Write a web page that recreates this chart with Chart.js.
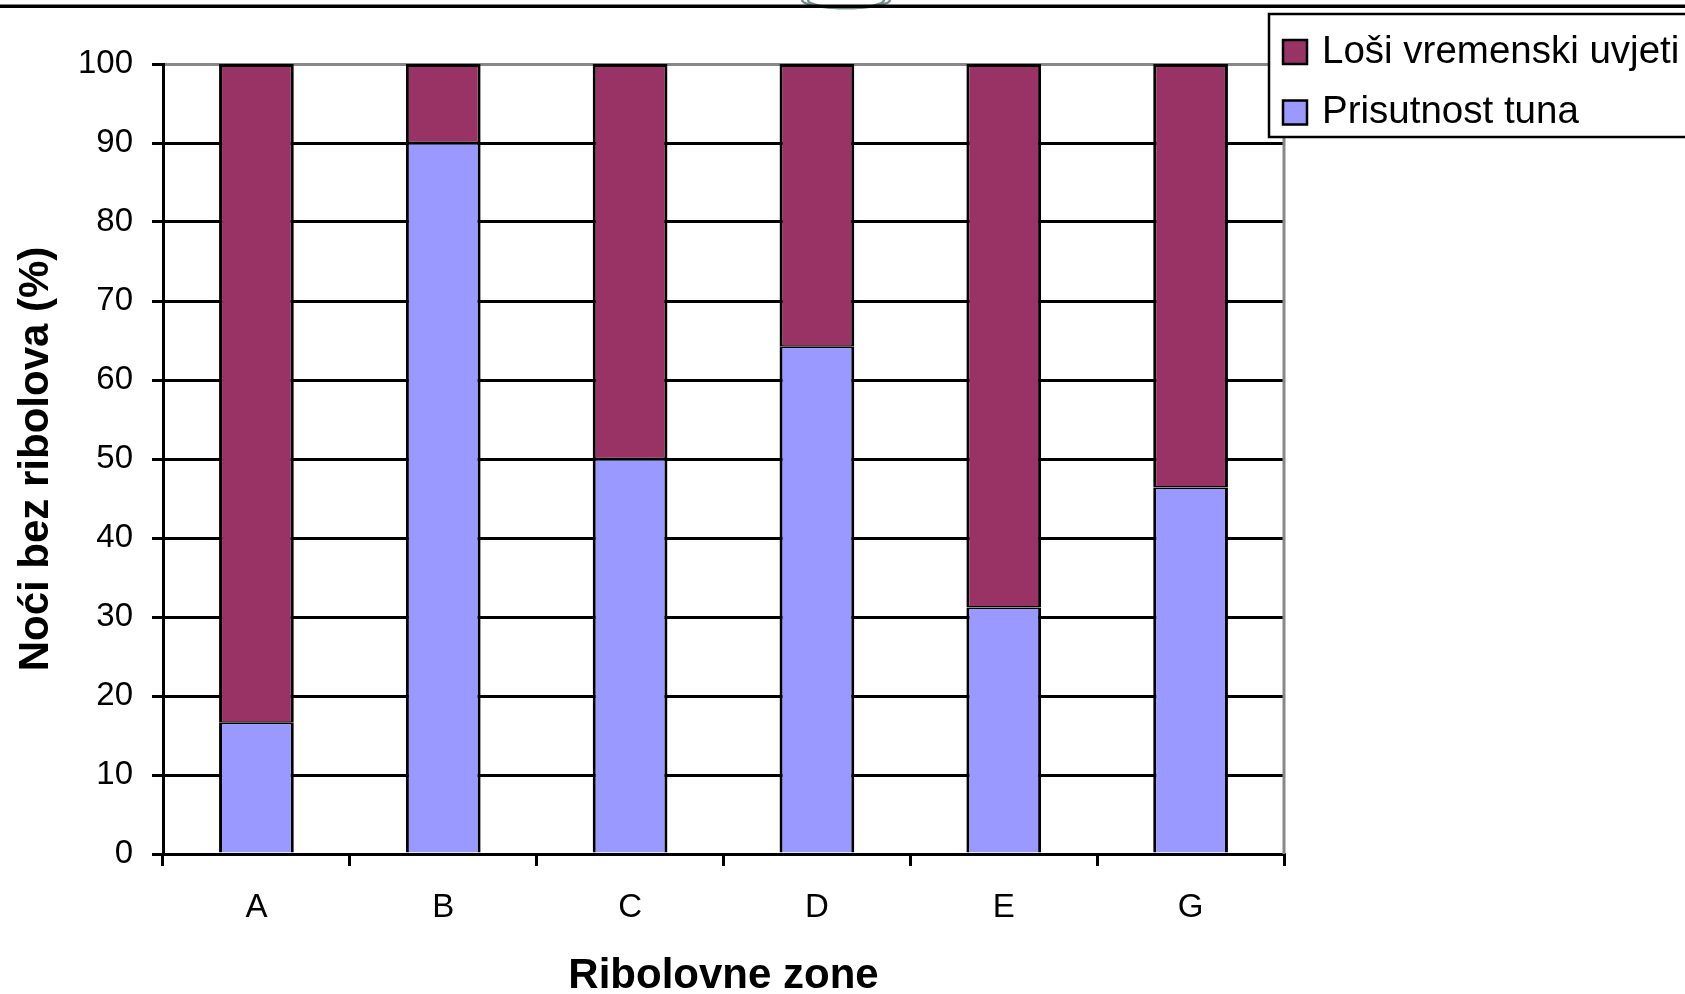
<!DOCTYPE html>
<html>
<head>
<meta charset="utf-8">
<title>Noći bez ribolova</title>
<script src="https://cdn.jsdelivr.net/npm/chart.js@4.4.1/dist/chart.umd.min.js"></script>
<style>
  html, body { margin: 0; padding: 0; background: #fff; }
  #wrap { width: 1685px; height: 994px; position: relative; }
</style>
</head>
<body>
<div id="wrap"><canvas id="ribolov-chart" width="1685" height="994"></canvas></div>
<script>
// Data
const zones = ['A', 'B', 'C', 'D', 'E', 'G'];
const tunaValues = [16.6, 90, 50, 64.2, 31.2, 46.4];      // Prisutnost tuna (bottom)
const weatherValues = [83.4, 10, 50, 35.8, 68.8, 53.6];   // Loši vremenski uvjeti (top)
const yTicks = [0, 10, 20, 30, 40, 50, 60, 70, 80, 90, 100];
const xTitle = 'Ribolovne zone';
const yTitle = 'Noći bez ribolova (%)';

const FONT = "'Liberation Sans', Arial, sans-serif";
Chart.defaults.font.family = FONT;
Chart.defaults.color = '#000';

// Top rule of the page and the cut-off logo above it
const pageDecor = {
    id: 'pageDecor',
    afterDraw(chart) {
        const ctx = chart.ctx;
        ctx.save();
        ctx.strokeStyle = '#6f8f8c';
        ctx.lineWidth = 2.5;
        [44, 38].forEach(rx => {
            ctx.beginPath();
            ctx.ellipse(846, 0, rx, 8, 0, 0, Math.PI);
            ctx.stroke();
        });
        ctx.fillStyle = '#000';
        ctx.fillRect(0, 4.5, chart.width, 3.5);
        ctx.restore();
    }
};

// Gray right edge of the plot area
const plotEdge = {
    id: 'plotEdge',
    beforeDatasetsDraw(chart) {
        const {ctx, chartArea} = chart;
        ctx.save();
        ctx.strokeStyle = '#888';
        ctx.lineWidth = 3;
        ctx.beginPath();
        ctx.moveTo(chartArea.right, chartArea.top);
        ctx.lineTo(chartArea.right, chartArea.bottom);
        ctx.stroke();
        ctx.restore();
    }
};

// Boxed legend in the top right corner, drawn over the plot
const boxLegend = {
    id: 'boxLegend',
    afterDraw(chart) {
        const ctx = chart.ctx;
        const items = chart.data.datasets.slice().reverse();
        ctx.save();
        ctx.fillStyle = '#fff';
        ctx.fillRect(1269, 14, 430, 123);
        ctx.strokeStyle = '#000';
        ctx.lineWidth = 2.5;
        ctx.strokeRect(1269, 14, 430, 123);
        ctx.font = '38.5px ' + FONT;
        ctx.textBaseline = 'middle';
        ctx.textAlign = 'left';
        items.forEach((ds, i) => {
            const cy = 52 + i * 60.5;
            ctx.fillStyle = ds.backgroundColor;
            ctx.fillRect(1283, cy - 12, 24, 24);
            ctx.strokeRect(1283, cy - 12, 24, 24);
            ctx.fillStyle = '#000';
            ctx.fillText(ds.label, 1322, cy);
        });
        ctx.restore();
    }
};

const canvas = document.getElementById('ribolov-chart');
const ribolovChart = new Chart(canvas.getContext('2d'), {
    type: 'bar',
    data: {
        labels: zones,
        datasets: [{
            label: 'Prisutnost tuna',
            data: tunaValues,
            backgroundColor: '#9999FF',
            borderColor: '#000',
            borderWidth: {top: 1.5, left: 3, right: 3, bottom: 0},
            borderSkipped: false,
            inflateAmount: 0
        }, {
            label: 'Loši vremenski uvjeti',
            data: weatherValues,
            backgroundColor: '#993366',
            borderColor: '#000',
            borderWidth: {top: 3, left: 3, right: 3, bottom: 1.5},
            borderSkipped: false,
            inflateAmount: 0
        }]
    },
    options: {
        responsive: false,
        animation: false,
        barPercentage: 0.4,
        categoryPercentage: 1.0,
        layout: {
            padding: {left: 0, right: 401, top: 64, bottom: 0}
        },
        scales: {
            x: {
                stacked: true,
                afterFit: scale => { scale.height = 140; },
                grid: {
                    drawOnChartArea: false,
                    drawTicks: true,
                    tickLength: 12,
                    color: '#000',
                    lineWidth: 3,
                    offset: true
                },
                border: {color: '#000', width: 3},
                ticks: {
                    font: {size: 33},
                    color: '#000',
                    padding: 22,
                    maxRotation: 0
                },
                title: {
                    display: true,
                    text: xTitle,
                    color: '#000',
                    font: {size: 42, weight: 'bold'},
                    padding: {top: 0, bottom: -8}
                }
            },
            y: {
                stacked: true,
                min: 0,
                max: 100,
                afterFit: scale => { scale.width = 163; },
                afterBuildTicks: scale => {
                    scale.ticks = yTicks.map(v => ({value: v}));
                },
                grid: {
                    color: c => (c.tick && c.tick.value === 100 ? '#888' : '#000'),
                    tickColor: '#000',
                    lineWidth: 3,
                    tickLength: 11
                },
                border: {color: '#000', width: 3},
                ticks: {
                    font: {size: 33},
                    color: '#000',
                    padding: 19
                },
                title: {
                    display: true,
                    text: yTitle,
                    color: '#000',
                    font: {size: 42, weight: 'bold'},
                    padding: {top: 11, bottom: 0}
                }
            }
        },
        plugins: {
            legend: {display: false},
            tooltip: {enabled: false}
        }
    },
    plugins: [plotEdge, boxLegend, pageDecor]
});
</script>
</body>
</html>
